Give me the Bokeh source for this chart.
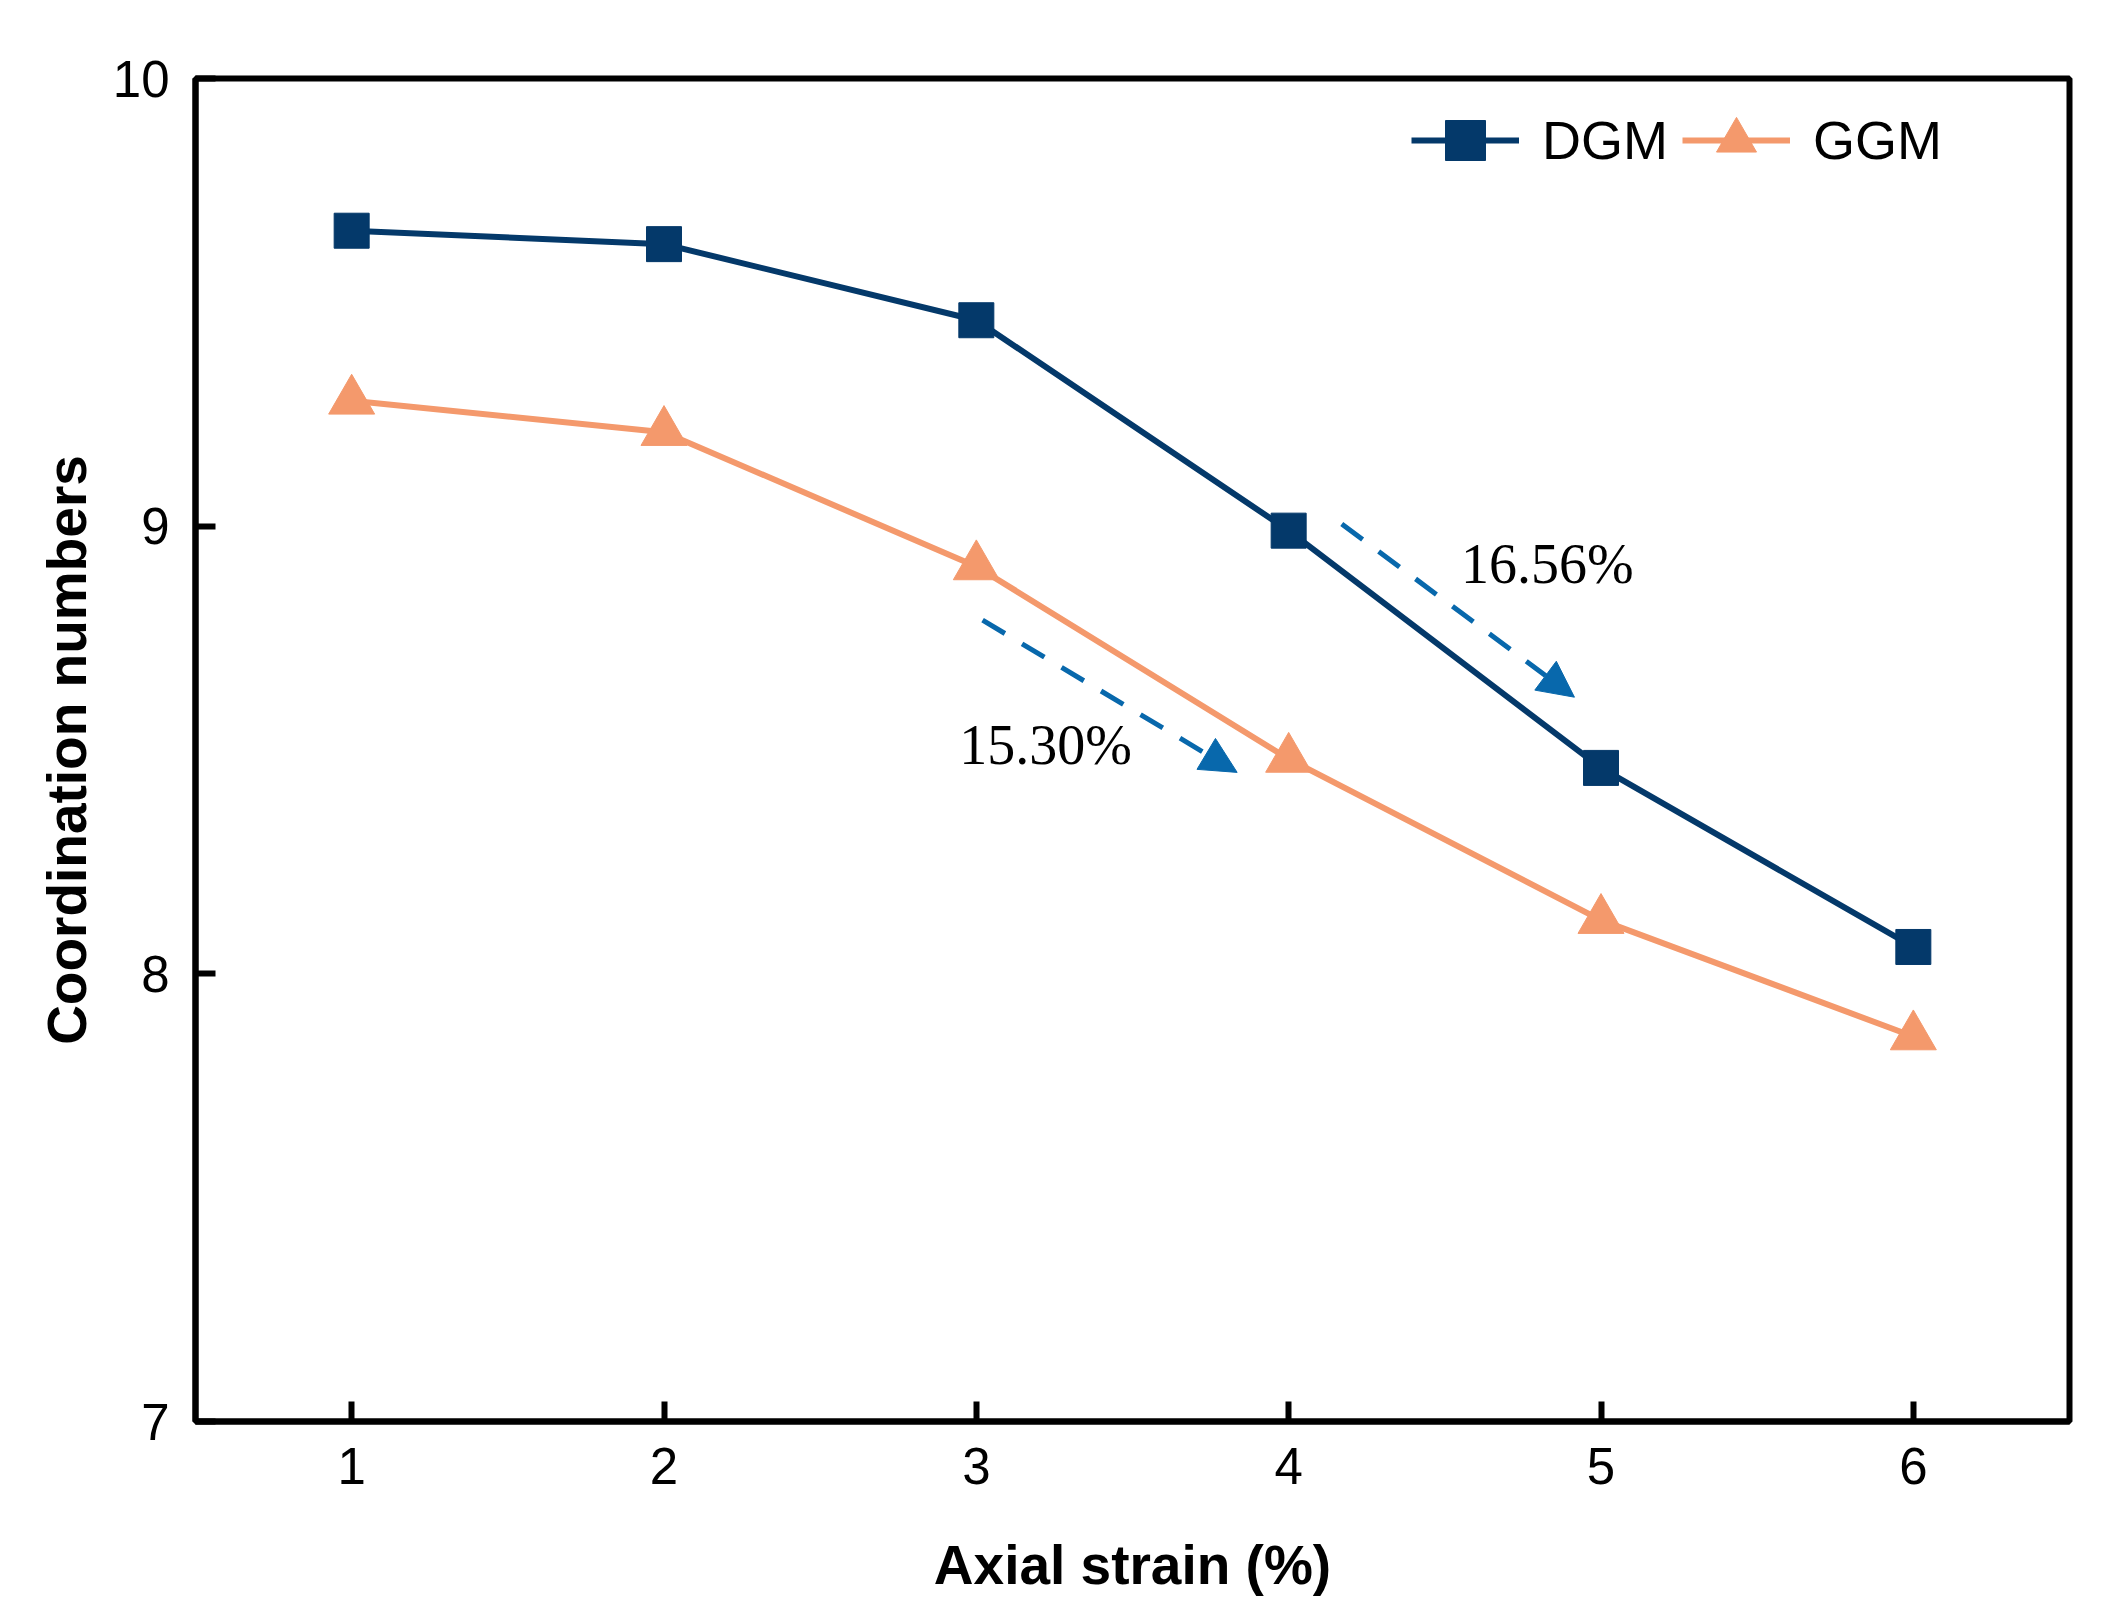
from bokeh.plotting import figure
from bokeh.models import (ColumnDataSource, Legend, LegendItem, Arrow, NormalHead,
                          Label, FixedTicker, Range1d)
from bokeh.embed import file_html
from bokeh.resources import INLINE

# ---- data ----
strain = [1, 2, 3, 4, 5, 6]
dgm = [9.66, 9.63, 9.46, 8.99, 8.46, 8.06]
ggm = [9.28, 9.21, 8.91, 8.48, 8.12, 7.86]
x_ticks = [1, 2, 3, 4, 5, 6]
y_ticks = [7, 8, 9, 10]

# annotation arrows (data coords) and labels
arrow_x_start = [4.170, 3.020]
arrow_y_start = [9.005, 8.790]
arrow_x_end = [4.915, 3.835]
arrow_y_end = [8.618, 8.450]
note_text = ["16.56%", "15.30%"]
note_x = [4.552, 2.945]
note_y = [8.915, 8.512]

DGM_C = "#04396A"
GGM_C = "#F4996C"
ARR_C = "#0868AC"

p = figure(frame_width=1874, frame_height=1343,
           min_border_left=195, min_border_top=78, min_border_right=24, min_border_bottom=185,
           x_range=Range1d(0.5, 6.5), y_range=Range1d(7, 10),
           output_backend="svg", toolbar_location=None)

p.background_fill_color = "white"
p.border_fill_color = "white"
p.xgrid.visible = False
p.ygrid.visible = False
p.outline_line_color = "black"
p.outline_line_width = 6

for ax in (p.xaxis[0], p.yaxis[0]):
    ax.axis_line_color = "black"
    ax.axis_line_width = 6
    ax.major_tick_line_color = "black"
    ax.major_tick_line_width = 6
    ax.major_tick_in = 20
    ax.major_tick_out = 0
    ax.minor_tick_line_color = None
    ax.major_label_text_font = "Liberation Sans"
    ax.major_label_text_font_size = "51px"
    ax.major_label_text_color = "black"
    ax.axis_label_text_font = "Liberation Sans"
    ax.axis_label_text_font_style = "bold"
    ax.axis_label_text_font_size = "55px"
    ax.axis_label_text_color = "black"

p.xaxis.ticker = FixedTicker(ticks=x_ticks)
p.yaxis.ticker = FixedTicker(ticks=y_ticks)
p.xaxis.axis_label = "Axial strain (%)"
p.yaxis.axis_label = "Coordination numbers"
p.xaxis.major_label_standoff = 26
p.xaxis.axis_label_standoff = 47
p.yaxis.major_label_standoff = 26
p.yaxis.axis_label_standoff = 12

src = ColumnDataSource(dict(x=strain, dgm=dgm, ggm=ggm))

l1 = p.line("x", "dgm", source=src, line_color=DGM_C, line_width=6)
m1 = p.scatter("x", "dgm", source=src, marker="square", size=35,
               fill_color=DGM_C, line_color=DGM_C)
l2 = p.line("x", "ggm", source=src, line_color=GGM_C, line_width=6)
m2 = p.scatter("x", "ggm", source=src, marker="triangle", size=46,
               fill_color=GGM_C, line_color=GGM_C)

for i in range(len(arrow_x_start)):
    p.add_layout(Arrow(end=NormalHead(size=36, fill_color=ARR_C, line_color=ARR_C, line_width=1),
                       x_start=arrow_x_start[i], y_start=arrow_y_start[i],
                       x_end=arrow_x_end[i], y_end=arrow_y_end[i],
                       line_color=ARR_C, line_width=5, line_dash="26 20"))

for t, x, y in zip(note_text, note_x, note_y):
    p.add_layout(Label(x=x, y=y, text=t, text_font="Liberation Serif",
                       text_font_size="56px", text_color="black",
                       text_baseline="alphabetic", text_align="left"))

legend = Legend(items=[LegendItem(label="DGM", renderers=[l1, m1]),
                       LegendItem(label="GGM", renderers=[l2, m2])],
                orientation="horizontal", location=(1216, 1231),
                label_text_font="Liberation Sans", label_text_font_size="54px",
                label_text_color="black",
                glyph_width=108, glyph_height=100, label_height=100,
                label_standoff=23, spacing=14,
                padding=0, margin=0, border_line_alpha=0, background_fill_alpha=0)
p.add_layout(legend)

open("out.html", "w").write(file_html(p, INLINE))
